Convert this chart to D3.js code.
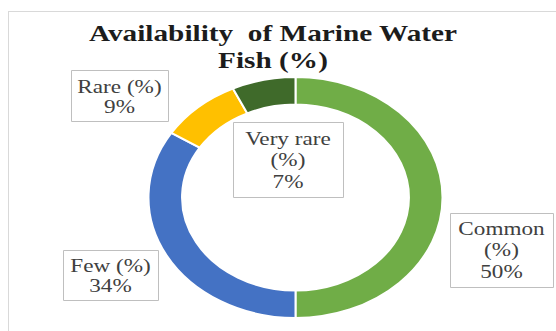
<!DOCTYPE html>
<html>
<head>
<meta charset="utf-8">
<script src="https://cdn.jsdelivr.net/npm/d3@7"></script>
<style>
  body { margin: 0; background: #fff; }
  svg { display: block; }
</style>
</head>
<body>
<svg id="chart" width="556" height="331"></svg>
<script>
// data
let categories = ["Common (%)", "Few (%)", "Rare (%)", "Very rare (%)"]
let values = [50, 34, 9, 7]
let sliceColors = ["#70AD47", "#4472C4", "#FFC000", "#3F6A2A"]
let titleLines = ["Availability  of Marine Water", "Fish (%)"]

// the picture is stretched sideways, so everything is drawn in a scaled group
let sx = 1.22
let width = 556, height = 331

// label boxes, in screen px
let labelLayout = {
    "Common (%)":    {x0: 450, x1: 553, y0: 213, y1: 287, split: true,  y: 235},
    "Few (%)":       {x0: 63,  x1: 158, y0: 250, y1: 300, split: false, y: 272},
    "Rare (%)":      {x0: 71,  x1: 168, y0: 70,  y1: 121, split: false, y: 93},
    "Very rare (%)": {x0: 233, x1: 343, y0: 122, y1: 197, split: true,  y: 145}
}

let data = categories.map((c, i) => ({cat: c, value: values[i], color: sliceColors[i]}))

let svg = d3.select("#chart")

// chart area border (runs off the right and bottom edges)
svg.append("rect")
    .attr("x", 8.5).attr("y", 11.5)
    .attr("width", 620).attr("height", 400)
    .attr("fill", "none")
    .attr("stroke", "#d9d9d9")

let g = svg.append("g").attr("transform", `scale(${sx},1)`)

// title (keep the double space)
g.append("text")
    .attr("text-anchor", "middle")
    .style("white-space", "pre")
    .style("font-family", "'Liberation Serif', serif")
    .style("font-weight", "bold")
    .style("font-size", "24px")
    .attr("fill", "#1c1c1c")
    .selectAll("tspan")
    .data(titleLines)
    .join("tspan")
    .attr("x", 273 / sx)
    .attr("y", (d, i) => 41 + i * 27)
    .text(d => d)

// donut
let cx = 295.5 / sx, cy = 197.5
let rOut = 120.5, rIn = 93

let pie = d3.pie().sort(null).value(d => d.value)
let arc = d3.arc().innerRadius(rIn).outerRadius(rOut)

g.append("g")
    .attr("transform", `translate(${cx},${cy})`)
    .selectAll("path")
    .data(pie(data))
    .join("path")
    .attr("d", arc)
    .attr("fill", d => d.data.color)
    .attr("stroke", "#fff")
    .attr("stroke-width", 2)
    .attr("vector-effect", "non-scaling-stroke")

// data labels
let total = d3.sum(values)
data.forEach(d => {
    let L = labelLayout[d.cat]
    let pct = Math.round(d.value / total * 100) + "%"
    let lines = L.split ? [d.cat.replace(" (%)", ""), "(%)", pct] : [d.cat, pct]
    let lineH = L.split ? 21.5 : 20

    g.append("rect")
        .attr("x", (L.x0 + 0.5) / sx)
        .attr("y", L.y0 + 0.5)
        .attr("width", (L.x1 - L.x0) / sx)
        .attr("height", L.y1 - L.y0)
        .attr("fill", "#fff")
        .attr("stroke", "#bfbfbf")
        .attr("vector-effect", "non-scaling-stroke")

    g.append("text")
        .attr("text-anchor", "middle")
        .style("font-family", "'Liberation Serif', serif")
        .style("font-size", "19px")
        .attr("fill", "#404040")
        .selectAll("tspan")
        .data(lines)
        .join("tspan")
        .attr("x", (L.x0 + L.x1) / 2 / sx)
        .attr("y", (t, i) => L.y + i * lineH)
        .text(t => t)
})
</script>
</body>
</html>
